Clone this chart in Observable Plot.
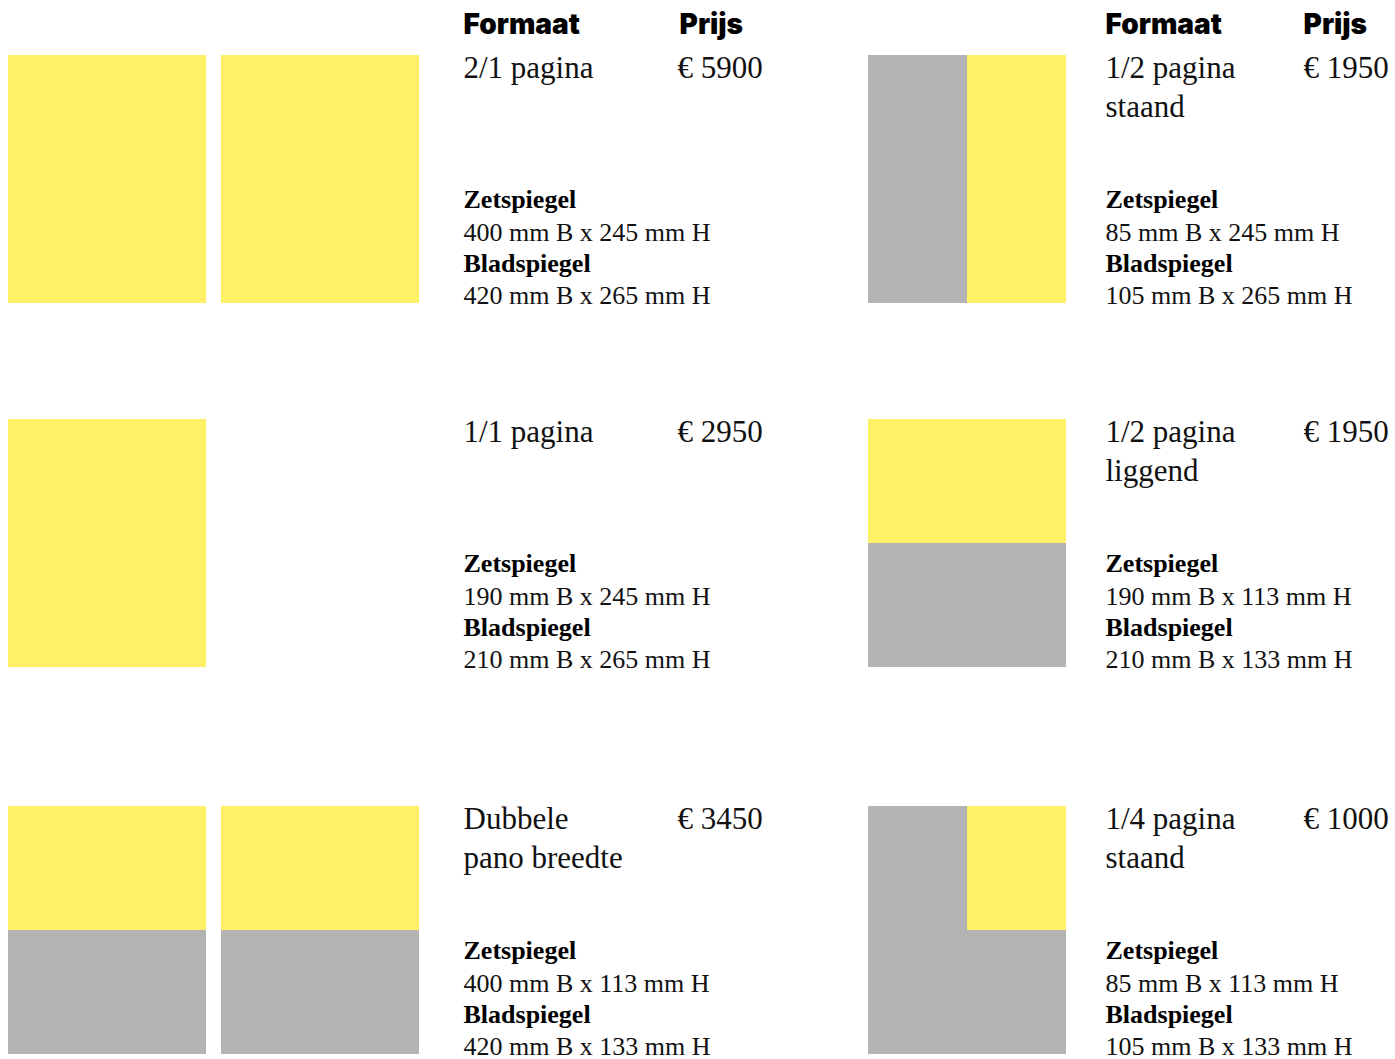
<!DOCTYPE html>
<html><head><meta charset="utf-8">
<script src="https://cdn.jsdelivr.net/npm/d3@7"></script>
<script src="https://cdn.jsdelivr.net/npm/@observablehq/plot@0.6"></script>
<style>body{margin:0;background:#fff}#chart svg{display:block}</style>
</head><body><div id="chart"></div>
<script>
// ---- data ----
const formats = ["2/1 pagina", "1/2 pagina\nstaand", "1/1 pagina", "1/2 pagina\nliggend", "Dubbele\npano breedte", "1/4 pagina\nstaand"];
const prices = ["€ 5900", "€ 1950", "€ 2950", "€ 1950", "€ 3450", "€ 1000"];
const zetspiegel = ["400 mm B x 245 mm H", "85 mm B x 245 mm H", "190 mm B x 245 mm H", "190 mm B x 113 mm H", "400 mm B x 113 mm H", "85 mm B x 113 mm H"];
const bladspiegel = ["420 mm B x 265 mm H", "105 mm B x 265 mm H", "210 mm B x 265 mm H", "210 mm B x 133 mm H", "420 mm B x 133 mm H", "105 mm B x 133 mm H"];
const pageCount = [2, 1, 1, 1, 2, 1];
// advert area on each page, as fractions of the page
const adLeft = [0, 0.5, 0, 0, 0, 0.5];
const adRight = [1, 1, 1, 1, 1, 1];
const adTop = [0, 0, 0, 0, 0, 0];
const adBottom = [1, 1, 1, 0.5, 0.5, 0.5];
const headers = ["Formaat", "Prijs"];
const labelZet = "Zetspiegel";
const labelBlad = "Bladspiegel";

// ---- layout ----
const W = 1395, H = 1059;
const colX = [8, 868], rowY = [55, 419, 806];
const pageW = 198, pageH = 248, pageGap = 15;
const textX = [463, 1105], priceX = [677, 1303], headPriceX = [679, 1303];
const nameBase = 22, nameLH = 39;
const detailBase = [152, 185, 216, 248];
const YELLOW = "#FFF166", GRAY = "#B3B3B3";

const pages = [], ads = [], names = [], priceRows = [], details = [];
formats.forEach((f, i) => {
  const c = i % 2, r = Math.floor(i / 2);
  for (let p = 0; p < pageCount[i]; ++p) {
    const px = colX[c] + p * (pageW + pageGap), py = rowY[r];
    pages.push({x1: px, x2: px + pageW, y1: py, y2: py + pageH});
    ads.push({x1: px + adLeft[i] * pageW, x2: px + adRight[i] * pageW, y1: py + adTop[i] * pageH, y2: py + adBottom[i] * pageH});
  }
  f.split("\n").forEach((line, k) => names.push({x: textX[c], y: rowY[r] + nameBase + k * nameLH, text: line}));
  priceRows.push({x: priceX[c], y: rowY[r] + nameBase, text: prices[i]});
  details.push({x: textX[c], y: rowY[r] + detailBase[0], text: labelZet, bold: true});
  details.push({x: textX[c], y: rowY[r] + detailBase[1], text: zetspiegel[i], bold: false});
  details.push({x: textX[c], y: rowY[r] + detailBase[2], text: labelBlad, bold: true});
  details.push({x: textX[c], y: rowY[r] + detailBase[3], text: bladspiegel[i], bold: false});
});
const heads = [];
[0, 1].forEach(c => {
  heads.push({x: textX[c], y: 33, text: headers[0]});
  heads.push({x: headPriceX[c], y: 33, text: headers[1]});
});

const serif = "'Liberation Serif', 'DejaVu Serif', serif";
const txt = (data, opts) => Plot.text(data, {x: "x", y: "y", text: "text", textAnchor: "start", lineAnchor: "bottom", fill: "#111", ...opts});

const chart = Plot.plot({
  width: W, height: H, margin: 0,
  x: {domain: [0, W], range: [0, W], axis: null},
  y: {domain: [0, H], range: [0, H], axis: null},
  style: {background: "#fff"},
  marks: [
    Plot.rect(pages, {x1: "x1", x2: "x2", y1: "y1", y2: "y2", fill: GRAY}),
    Plot.rect(ads, {x1: "x1", x2: "x2", y1: "y1", y2: "y2", fill: YELLOW}),
    txt(heads, {fontFamily: "Inter, 'Open Sans', sans-serif", fontWeight: 900, fontSize: 28, fill: "#000"}),
    txt(names, {fontFamily: serif, fontSize: 31}),
    txt(priceRows, {fontFamily: serif, fontSize: 31}),
    txt(details.filter(d => d.bold), {fontFamily: serif, fontSize: 26, fontWeight: "bold", fill: "#000"}),
    txt(details.filter(d => !d.bold), {fontFamily: serif, fontSize: 26})
  ]
});
document.getElementById("chart").append(chart);
</script>
</body></html>
